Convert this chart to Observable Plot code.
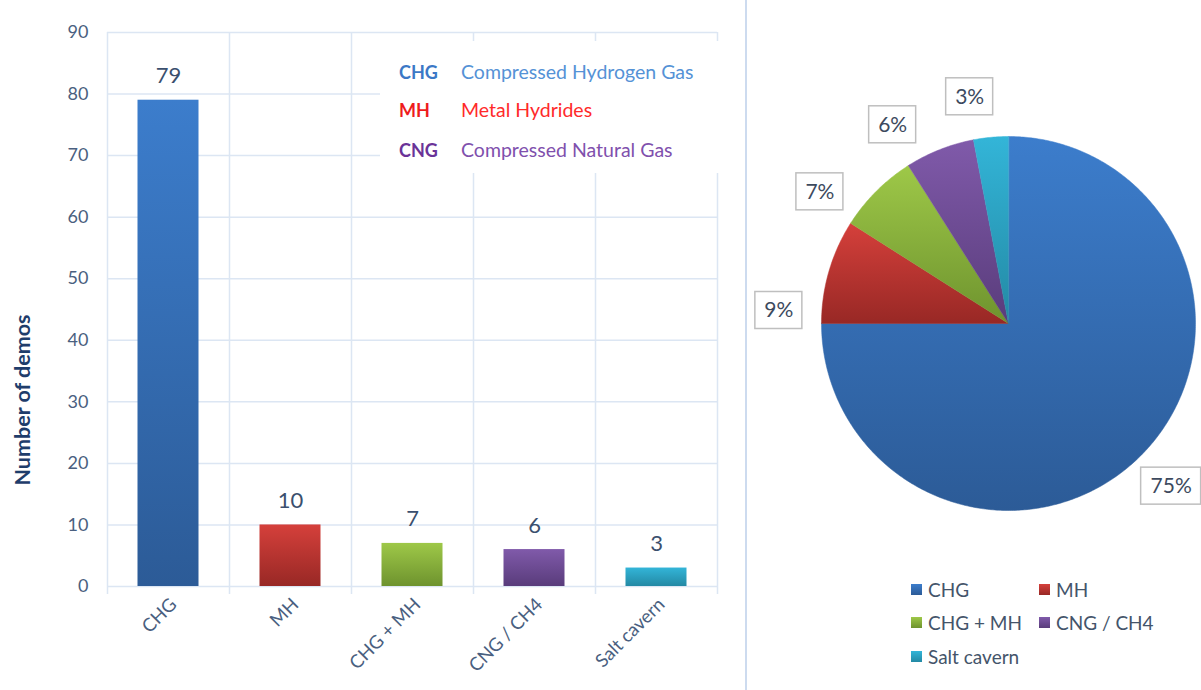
<!DOCTYPE html>
<html><head><meta charset="utf-8">
<script src="https://cdn.jsdelivr.net/npm/d3@7"></script>
<script src="https://cdn.jsdelivr.net/npm/@observablehq/plot@0.6"></script>
<style>
html,body{margin:0;padding:0;background:#fff;overflow:hidden;}
#root{position:relative;width:1201px;height:690px;font-family:Lato,"Open Sans",sans-serif;overflow:hidden;}
#bar{position:absolute;left:0;top:0;}
#pie{position:absolute;left:747px;top:0;}
#sep{position:absolute;left:745px;top:0;width:2px;height:690px;background:#cddbef;}
#ytitle{position:absolute;left:22px;top:400px;transform:translate(-50%,-50%) rotate(-90deg);white-space:nowrap;font-weight:bold;font-size:21.5px;color:#1f3d6b;}
#abbr{position:absolute;left:380px;top:41px;width:342px;height:132px;background:#fff;}
.abbr-row{position:absolute;left:19px;font-size:19.5px;line-height:22px;white-space:nowrap;}
.abbr-row b{display:inline-block;width:62px;font-size:18px;}
#pleg{position:absolute;left:911px;top:578px;display:grid;grid-template-columns:128px auto;grid-auto-rows:33.5px;font-size:19px;color:#44546a;}
#pleg .it{display:flex;align-items:center;height:22px;white-space:nowrap;}
#pleg .sw{width:11px;height:11px;margin-right:6px;flex:none;}
</style></head>
<body><div id="root"><div id="bar"></div><div id="sep"></div><div id="pie"></div><div id="ytitle"></div><div id="abbr"></div><div id="pleg"></div></div>
<script>
// ---- data ----
const categories = ["CHG", "MH", "CHG + MH", "CNG / CH4", "Salt cavern"];
const demos = [79, 10, 7, 6, 3];
const shares = [75, 9, 7, 6, 3];
const yTicks = [0, 10, 20, 30, 40, 50, 60, 70, 80, 90];
const abbrevs = ["CHG", "MH", "CNG"];
const abbrevNames = ["Compressed Hydrogen Gas", "Metal Hydrides", "Compressed Natural Gas"];
const yTitle = "Number of demos";

// ---- styles ----
const topColors = ["#3c7dcc", "#d5403b", "#9ec848", "#805aaa", "#33b5d8"];
const bottomColors = ["#2c5b97", "#982825", "#6e932e", "#593c7b", "#2389a4"];
const abbrColors = ["#3b78c6", "#ee1c1c", "#6a3398"];
const abbrNameColors = ["#5592d6", "#ff2a2a", "#8050ad"];
const gridColor = "#dce6f3";
const tickColor = "#4a5f80";
const valueColor = "#3b4f6e";

function addGradients(svg, prefix) {
  const defs = d3.select(svg).insert("defs", ":first-child");
  topColors.forEach((c, i) => {
    const g = defs.append("linearGradient").attr("id", prefix + i)
      .attr("x1", 0).attr("y1", 0).attr("x2", 0).attr("y2", 1);
    g.append("stop").attr("offset", "0%").attr("stop-color", c);
    g.append("stop").attr("offset", "100%").attr("stop-color", bottomColors[i]);
  });
}

// ---- bar chart ----
const rows = categories.map((c, i) => ({i, category: c, value: demos[i]}));
const bar = Plot.plot({
  width: 746, height: 690,
  marginLeft: 107, marginRight: 29, marginTop: 32, marginBottom: 104,
  style: {fontFamily: "Lato, 'Open Sans', sans-serif", background: "transparent", color: tickColor},
  x: {domain: [0, categories.length]},
  y: {domain: [0, 90]},
  color: {type: "identity"},
  marks: [
    Plot.gridY(yTicks, {stroke: gridColor, strokeOpacity: 1, strokeWidth: 1.5}),
    Plot.ruleX(d3.range(categories.length + 1), {stroke: gridColor, strokeWidth: 1.5, insetBottom: -8}),
    Plot.rectY(rows, {x1: d => d.i + 0.25, x2: d => d.i + 0.75, y: "value", fill: d => `url(#bg${d.i})`}),
    Plot.text(rows, {x: d => d.i + 0.5, y: "value", text: d => String(d.value), lineAnchor: "bottom", dy: -17, fontSize: 22, fill: valueColor}),
    Plot.axisY(yTicks, {tickSize: 0, tickPadding: 19, fontSize: 18, fill: tickColor, label: null}),
    Plot.axisX(rows.map(d => d.i + 0.5), {tickSize: 0, tickPadding: 15, tickRotate: -45, textAnchor: "end", dx: 5,
      tickFormat: v => categories[Math.floor(v)], fontSize: 18.5, fill: tickColor, label: null})
  ]
});
addGradients(bar, "bg");
document.getElementById("bar").appendChild(bar);

document.getElementById("ytitle").textContent = yTitle;
const abbr = document.getElementById("abbr");
abbrevs.forEach((a, i) => {
  const r = document.createElement("div");
  r.className = "abbr-row";
  r.style.top = [20, 58, 98][i] + "px";
  r.innerHTML = `<b style="color:${abbrColors[i]}">${a}</b><span style="color:${abbrNameColors[i]}">${abbrevNames[i]}</span>`;
  abbr.appendChild(r);
});

// ---- pie chart ----
const R = 187, CX = 261, CY = 323, PW = 454, PH = 690;
const arcs = d3.pie().sort(null).value(d => d)(shares);
const slices = arcs.map(a => {
  const n = Math.max(2, Math.ceil((a.endAngle - a.startAngle) / 0.01));
  const pts = [{x: 0, y: 0}];
  for (let k = 0; k <= n; k++) {
    const t = a.startAngle + (a.endAngle - a.startAngle) * k / n;
    pts.push({x: Math.sin(t), y: Math.cos(t)});
  }
  return pts;
});
const labels = arcs.map((a, i) => {
  const span = a.endAngle - a.startAngle;
  const t = span < Math.PI / 2 ? a.startAngle + 0.1 * span : (a.startAngle + a.endAngle) / 2;
  const txt = shares[i] + "%";
  const w = (txt.length === 2 ? 47 : 60) / R, h = 37 / R;
  return {x: 1.23 * Math.sin(t), y: 1.23 * Math.cos(t), text: txt, w, h};
});
const pie = Plot.plot({
  width: PW, height: PH, margin: 0,
  style: {fontFamily: "Lato, 'Open Sans', sans-serif", background: "transparent"},
  x: {domain: [-CX / R, (PW - CX) / R], axis: null},
  y: {domain: [-(PH - CY) / R, CY / R], axis: null},
  marks: [
    ...slices.map((pts, i) => Plot.line(pts, {x: "x", y: "y", fill: `url(#pg${i})`, stroke: `url(#pg${i})`, strokeWidth: 0.5, curve: "linear-closed"})),
    Plot.rect(labels, {x1: d => d.x - d.w / 2, x2: d => d.x + d.w / 2, y1: d => d.y - d.h / 2, y2: d => d.y + d.h / 2, fill: "white", stroke: "#bfbfbf", strokeWidth: 1.5}),
    Plot.text(labels, {x: "x", y: "y", text: "text", fontSize: 21, fill: "#3d4a5e"})
  ]
});
addGradients(pie, "pg");
document.getElementById("pie").appendChild(pie);

const pleg = document.getElementById("pleg");
categories.forEach((c, i) => {
  const it = document.createElement("div");
  it.className = "it";
  it.innerHTML = `<span class="sw" style="background:linear-gradient(${topColors[i]},${bottomColors[i]})"></span><span>${c}</span>`;
  pleg.appendChild(it);
});
</script></body></html>
